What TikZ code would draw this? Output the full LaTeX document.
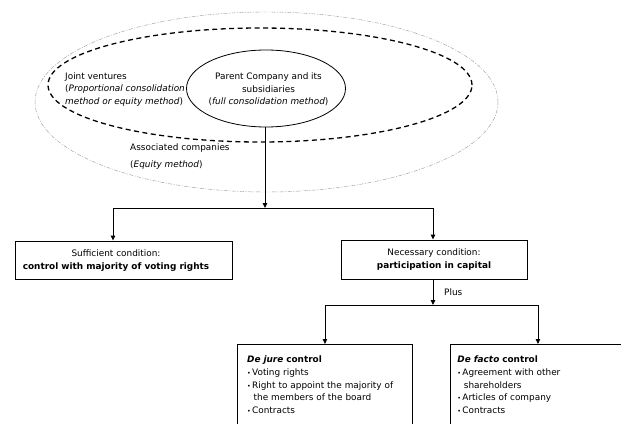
\documentclass[tikz,border=0pt]{standalone}
\usepackage{fontspec}
\setmainfont{DejaVu Sans}
\usetikzlibrary{arrows.meta,shapes.geometric,calc}
\newcommand{\bitm}{\makebox[5pt][l]{\scalebox{0.7}{•}}}
\begin{document}
\begin{tikzpicture}[x=1pt,y=-1pt,
  every node/.style={font=\fontsize{8.9pt}{12.7pt}\selectfont, inner sep=0pt},
  conn/.style={line width=0.9pt, black},
  arr/.style={conn, -{Triangle[width=4.5pt,length=5pt]}},
  ell/.style={ellipse, draw, inner sep=0pt, outer sep=0pt},
  boxa/.style={rectangle, draw, line width=0.9pt, align=center},
  boxb/.style={rectangle, draw, line width=0.9pt, align=left, text width=155.6pt,
     inner ysep=11.5pt, text depth=70pt, anchor=north west}]
\useasboundingbox (0,0) rectangle (621,423);
% ellipses
\node[ell, draw=gray!75, line width=0.45pt, dash pattern=on 4pt off 1.5pt on 1pt off 1.5pt,
      minimum width=463pt, minimum height=180pt] (outer) at (266.5,102) {};
\node[ell, line width=1.3pt, dash pattern=on 5pt off 3.5pt,
      minimum width=424pt, minimum height=114pt] (jv) at (260,85) {};
\node[ell, line width=0.8pt, minimum width=159pt, minimum height=77pt] (parent) at (266,88.5) {};
% ellipse texts
\node[align=center] (parenttxt) at (268.5,89.3)
  {Parent Company and its\\subsidiaries\\(\textit{full consolidation method})};
\node[align=left, anchor=west] (jvtxt) at (65,89.3)
  {Joint ventures\\(\textit{Proportional consolidation}\\\textit{method or equity method})};
\node[align=left, anchor=west] (assoctxt) at (130,156.5)
  {Associated companies\\[4pt](\textit{Equity method})};
% condition boxes
\node[boxa, minimum width=217pt, minimum height=38pt] (lbox) at (123.5,260) {};
\node[align=center] (ltxt) at (116,260.5)
  {Sufficient condition:\\\textbf{control with majority of voting rights}};
\node[boxa, minimum width=186pt, minimum height=39pt] (rbox) at (434,259.5)
  {Necessary condition:\\\textbf{participation in capital}};
% first level connectors
\coordinate (jc) at (265,208);
\coordinate (jl) at (113,208);
\coordinate (jr) at (433,208);
\draw[arr] (parent.south -| jc) -- (jc);
\draw[conn] (jl) -- (jr);
\draw[arr] (jl) -- (jl |- lbox.north);
\draw[arr] (jr) -- (jr |- rbox.north);
% control boxes
\node[boxb, inner xsep=9.7pt] (dj) at (237,344)
  {\textbf{\textit{De jure}} \textbf{control}\\
   \bitm Voting rights\\
   \bitm Right to appoint the majority of\\
   \hspace*{6.5pt}the members of the board\\
   \bitm Contracts};
\node[boxb, inner xsep=7pt, text width=161pt] (df) at (450,344)
  {\textbf{\textit{De facto}} \textbf{control}\\
   \bitm Agreement with other\\
   \hspace*{6.5pt}shareholders\\
   \bitm Articles of company\\
   \bitm Contracts};
% second level connectors
\coordinate (j2) at (433,305);
\draw[arr] (rbox.south -| j2) -- (j2);
\node[anchor=west] (plus) at (444,292) {Plus};
\coordinate (j2l) at (dj.north |- j2);
\coordinate (j2r) at (df.north |- j2);
\draw[conn] (j2l) -- (j2r);
\draw[arr] (j2l) -- (dj.north);
\draw[arr] (j2r) -- (df.north);
\end{tikzpicture}
\end{document}
